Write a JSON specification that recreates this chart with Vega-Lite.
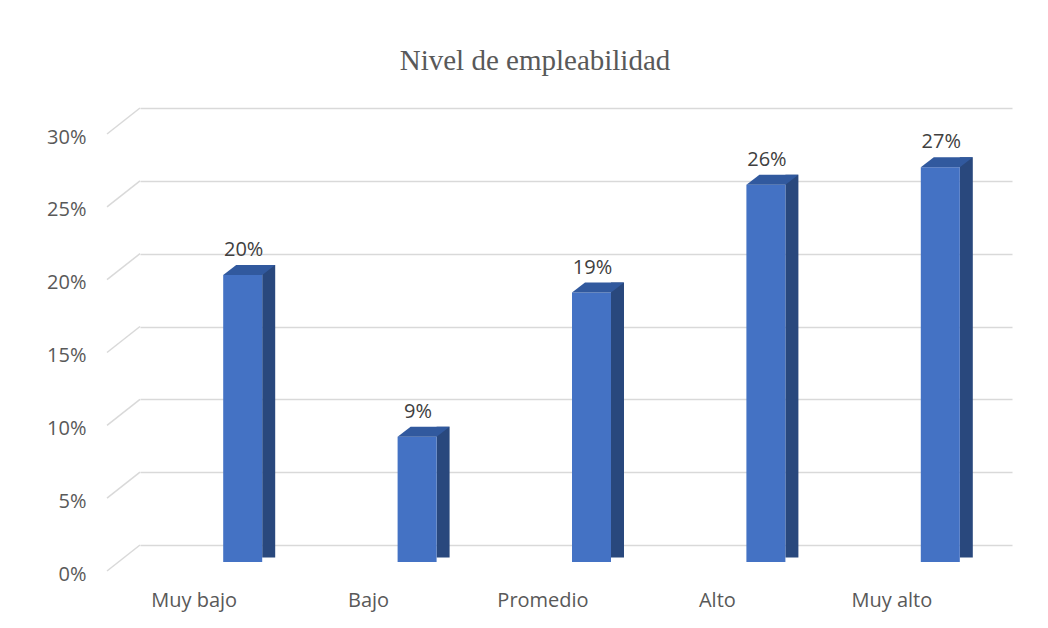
{
  "$schema": "https://vega.github.io/schema/vega-lite/v6.json",
  "width": 872,
  "height": 437,
  "autosize": {"type": "none"},
  "padding": {"left": 140, "top": 108, "right": 36, "bottom": 83},
  "background": "#ffffff",
  "config": {"view": {"stroke": null}},
  "title": {
    "text": "Nivel de empleabilidad",
    "font": "Liberation Serif",
    "fontSize": 29,
    "fontWeight": "normal",
    "color": "#595959",
    "anchor": "middle",
    "baseline": "alphabetic",
    "offset": 8,
    "dx": -41
  },
  "datasets": {
    "bars": [
      {"nivel": "Muy bajo", "pct": 0.197},
      {"nivel": "Bajo", "pct": 0.086},
      {"nivel": "Promedio", "pct": 0.185},
      {"nivel": "Alto", "pct": 0.259},
      {"nivel": "Muy alto", "pct": 0.271}
    ],
    "ticks": [
      {"t": 0}, {"t": 0.05}, {"t": 0.1}, {"t": 0.15}, {"t": 0.2}, {"t": 0.25}, {"t": 0.3}
    ]
  },
  "layer": [
    {
      "data": {"name": "ticks"},
      "mark": {"type": "rule", "color": "#D9D9D9", "strokeWidth": 1.5, "x2Offset": -33, "y2Offset": 26},
      "encoding": {
        "y": {"field": "t", "type": "quantitative", "scale": {"domain": [0, 0.3], "nice": false}},
        "y2": {"field": "t"},
        "x": {"value": 0},
        "x2": {"value": 0}
      }
    },
    {
      "data": {"name": "bars"},
      "layer": [
        {
          "mark": {"type": "bar", "color": "#29487D", "width": 13, "xOffset": 41.5, "yOffset": 7, "y2Offset": 12.5},
          "encoding": {
            "x": {
              "field": "nivel", "type": "nominal", "sort": null,
              "scale": {"paddingInner": 0, "paddingOuter": 0},
              "axis": {
                "title": null, "domain": false, "ticks": false, "tickSize": 0,
                "labelAngle": 0, "labelOffset": -33, "labelPadding": 45,
                "labelFont": "Open Sans", "labelFontSize": 20, "labelColor": "#595959"
              }
            },
            "y": {
              "field": "pct", "type": "quantitative",
              "scale": {"domain": [0, 0.3], "nice": false},
              "axis": {
                "title": null, "values": [0, 0.05, 0.1, 0.15, 0.2, 0.25, 0.3],
                "format": ".0%", "domain": false, "ticks": false, "tickSize": 0,
                "labelPadding": 54, "labelOffset": 29,
                "labelFont": "Open Sans", "labelFontSize": 20, "labelColor": "#595959",
                "grid": true, "gridColor": "#D9D9D9", "gridWidth": 1.5
              }
            },
            "y2": {"datum": 0}
          }
        },
        {
          "mark": {"type": "bar", "color": "#4472C4", "width": 39, "xOffset": 15.5, "yOffset": 17, "y2Offset": 17},
          "encoding": {
            "x": {"field": "nivel", "type": "nominal", "sort": null},
            "y": {"field": "pct", "type": "quantitative"},
            "y2": {"datum": 0}
          }
        },
        {
          "mark": {
            "type": "point", "filled": true, "opacity": 1, "color": "#31599E",
            "shape": "M -1 0.192 L 0.5 0.192 L 1 -0.192 L -0.5 -0.192 Z",
            "size": 2704, "xOffset": 22, "yOffset": 12
          },
          "encoding": {
            "x": {"field": "nivel", "type": "nominal", "sort": null},
            "y": {"field": "pct", "type": "quantitative"}
          }
        },
        {
          "mark": {
            "type": "text", "font": "Open Sans", "fontSize": 20, "color": "#404040",
            "align": "center", "baseline": "alphabetic", "xOffset": 16.5, "yOffset": -2
          },
          "encoding": {
            "x": {"field": "nivel", "type": "nominal", "sort": null},
            "y": {"field": "pct", "type": "quantitative"},
            "text": {"field": "pct", "type": "quantitative", "format": ".0%"}
          }
        }
      ]
    }
  ]
}
